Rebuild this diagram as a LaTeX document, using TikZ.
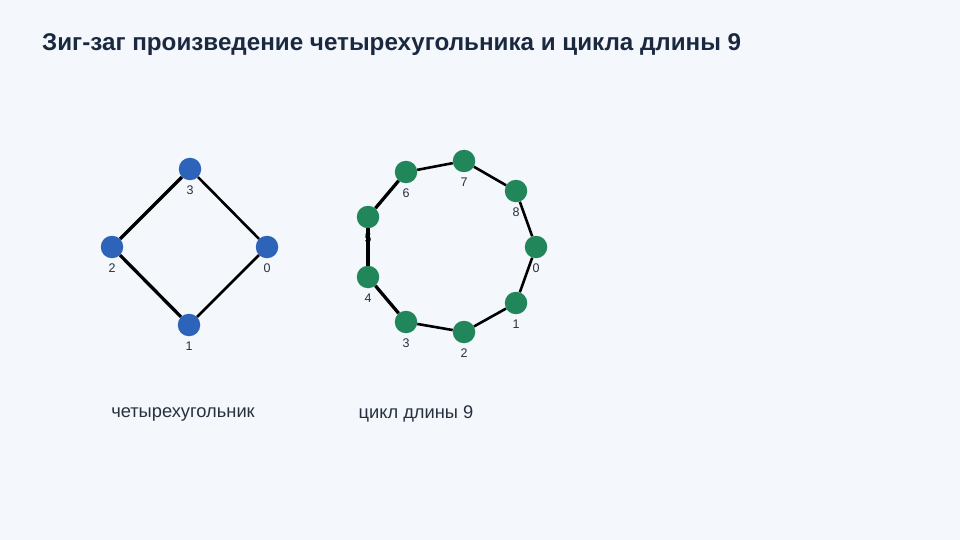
\documentclass[tikz,border=0pt]{standalone}
\usepackage{fontspec}
\setmainfont{Liberation Sans}
\definecolor{bg}{HTML}{F4F8FC}
\definecolor{titlec}{HTML}{1B2940}
\definecolor{textc}{HTML}{27303F}
\definecolor{bluen}{HTML}{2D63B8}
\definecolor{greenn}{HTML}{21875A}
\tikzset{
  x=1pt,y=-1pt,
  bnode/.style={circle,fill=bluen,minimum size=22.5pt,inner sep=0pt},
  gnode/.style={circle,fill=greenn,minimum size=22.5pt,inner sep=0pt},
  vlab/.style={font=\fontsize{12.5}{14}\selectfont,text=textc,inner sep=0pt},
  edge/.style={line width=3.3pt,black},
  thinedge/.style={line width=2.6pt,black},
  caption/.style={font=\fontsize{18.3}{21}\selectfont,text=textc,inner sep=0pt}
}
\begin{document}
\begin{tikzpicture}
\fill[bg] (0,0) rectangle (960,540);
\useasboundingbox (0,0) rectangle (960,540);
\node[anchor=base west,inner sep=0pt,text=titlec,font=\bfseries\fontsize{24.2}{28}\selectfont] (title) at (42,51) {Зиг-заг произведение четырехугольника и цикла длины 9};
% square
\node[bnode] (q3) at (190,169) {};
\node[bnode] (q2) at (112,247) {};
\node[bnode] (q0) at (267,247) {};
\node[bnode] (q1) at (189,325) {};
\draw[edge] (q3) -- (q2);
\draw[thinedge] (q3) -- (q0);
\draw[edge] (q2) -- (q1);
\draw[thinedge] (q0) -- (q1);
\node[vlab] (lq3) at (190,190) {3};
\node[vlab] (lq2) at (112,268) {2};
\node[vlab] (lq0) at (267,268) {0};
\node[vlab] (lq1) at (189,346) {1};
% cycle
\foreach \i/\x/\y in {0/536/247,1/516/303,2/464/332,3/406/322,4/368/277,5/368/217,6/406/172,7/464/161,8/516/191}{
  \node[gnode] (c\i) at (\x,\y) {};
  \node[vlab] (lc\i) at (\x,\y+21) {\i};
}
\draw[thinedge] (c0) -- (c1);
\draw[thinedge] (c1) -- (c2);
\draw[thinedge] (c2) -- (c3);
\draw[edge] (c3) -- (c4);
\draw[edge] (c4) -- (c5);
\draw[edge] (c5) -- (c6);
\draw[thinedge] (c6) -- (c7);
\draw[thinedge] (c7) -- (c8);
\draw[thinedge] (c8) -- (c0);
\node[caption] (cap1) at (183,414) {четырехугольник};
\node[caption] (cap2) at (416,414) {цикл длины 9};
\end{tikzpicture}
\end{document}
